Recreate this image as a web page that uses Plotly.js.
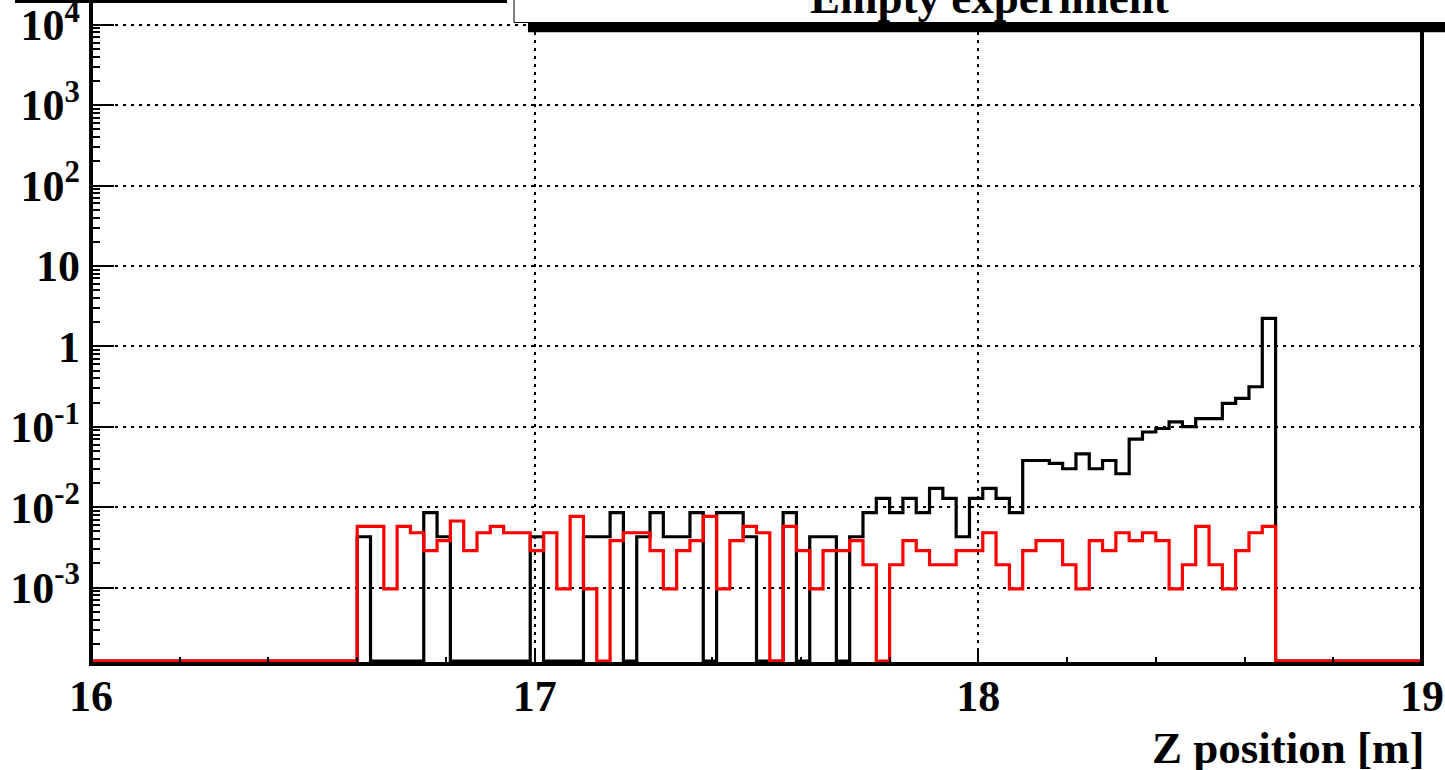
<!DOCTYPE html>
<html>
<head>
<meta charset="utf-8">
<script src="https://cdn.plot.ly/plotly-3.0.1.min.js"></script>
<style>html,body{margin:0;padding:0;background:#fff;}#chart{width:1445px;height:770px;}</style>
</head>
<body>
<div id="chart"></div>
<script>
// ---- histogram binning (16 .. 19 m, 100 bins) ----
const xMin = 16;
const xMax = 19;
const binWidth = 0.03;

// black histogram (one value per bin, 0 = empty bin)
const blackValues = [
  0,0,0,0,0,0,0,0,0,0,
  0,0,0,0,0,0,0,0,0,0,
  0.00428,0,0,0,0,0.00856,0.00428,0,0,0,
  0,0,0,0.00428,0,0,0,0.00428,0.00428,0.00856,
  0,0.00428,0.00856,0.00428,0.00428,0.00856,0,0.00856,0.00856,0.00428,
  0,0,0.00856,0,0.00428,0.00428,0,0.00428,0.00856,0.01284,
  0.00856,0.01284,0.00856,0.01712,0.01284,0.00428,0.01284,0.01712,0.01284,0.00856,
  0.038,0.038,0.035,0.030,0.046,0.030,0.038,0.026,0.070,0.086,
  0.095,0.115,0.100,0.126,0.126,0.195,0.225,0.314,2.23,0,
  0,0,0,0,0,0,0,0,0,0
];

// red histogram
const redValues = [
  0,0,0,0,0,0,0,0,0,0,
  0,0,0,0,0,0,0,0,0,0,
  0.00576,0.00576,0.00096,0.00576,0.0048,0.00288,0.00384,0.00672,0.00288,0.0048,
  0.00576,0.0048,0.0048,0.00288,0.0048,0.00096,0.00768,0.00096,0,0.00384,
  0.0048,0.0048,0.00288,0.00096,0.00288,0.00384,0.00768,0.00096,0.00384,0.00576,
  0.0048,0,0.00576,0.00288,0.00096,0.00288,0.00288,0.00384,0.00192,0,
  0.00192,0.00384,0.00288,0.00192,0.00192,0.00288,0.00288,0.0048,0.00192,0.00096,
  0.00288,0.00384,0.00384,0.00192,0.00096,0.00384,0.00288,0.0048,0.00384,0.0048,
  0.00384,0.00096,0.00192,0.00576,0.00192,0.00096,0.00288,0.0048,0.00576,0,
  0,0,0,0,0,0,0,0,0,0
];

// axes
const xTickVals = [16, 17, 18, 19];
const xTickText = ['16', '17', '18', '19'];
const yTickVals = [1e-3, 1e-2, 1e-1, 1, 10, 100, 1e3, 1e4];
const yTickText = ['10<sup>-3</sup>', '10<sup>-2</sup>', '10<sup>-1</sup>', '1', '10',
                   '10<sup>2</sup>', '10<sup>3</sup>', '10<sup>4</sup>'];
const yLogRange = [-3.951, 4.307];
const titleText = 'Empty experiment';
const xTitleText = 'Z position [m]';

// ---- build step traces ----
const floorValue = Math.pow(10, yLogRange[0] + 0.037); // empty bins sit on the frame floor
function stepTrace(values, color) {
  const xs = [], ys = [];
  values.forEach((v, i) => {
    xs.push(xMin + i * binWidth);
    ys.push(v > 0 ? v : floorValue);
  });
  xs.push(xMax);
  ys.push(values[values.length - 1] > 0 ? values[values.length - 1] : floorValue);
  return {
    type: 'scatter', mode: 'lines', x: xs, y: ys,
    line: {shape: 'hv', color: color, width: 3.2},
    hoverinfo: 'skip', showlegend: false
  };
}

const W = 1445, H = 770;
const M = {l: 91, r: 23, t: 0, b: 106};
const pw = W - M.l - M.r, ph = H - M.t - M.b;
const px = x => (x - M.l) / pw;
const py = y => (H - M.b - y) / ph;

const minorY = [];
for (let d = -4; d <= 4; d++) for (let k = 2; k <= 9; k++) minorY.push(k * Math.pow(10, d));

const serif = 'Liberation Serif, Times New Roman, serif';
const tickFont = {family: serif, size: 44, color: '#000', weight: 'bold'};

const layout = {
  width: W, height: H, margin: M,
  paper_bgcolor: '#fff', plot_bgcolor: '#fff', showlegend: false,
  xaxis: {
    range: [xMin, xMax], tickmode: 'array', tickvals: xTickVals, ticktext: xTickText,
    ticks: 'inside', ticklen: 15, tickwidth: 2, tickcolor: '#000',
    showgrid: true, gridcolor: '#000', gridwidth: 2, griddash: '3px,5px',
    minor: {tick0: 16, dtick: 0.2, ticks: 'inside', ticklen: 7, tickwidth: 2, tickcolor: '#000', showgrid: false},
    showline: false, zeroline: false, tickfont: tickFont, ticklabelstandoff: 2,
    ticklabeloverflow: 'allow', fixedrange: true
  },
  yaxis: {
    type: 'log', range: yLogRange, tickmode: 'array', tickvals: yTickVals, ticktext: yTickText,
    ticks: 'inside', ticklen: 23, tickwidth: 2, tickcolor: '#000',
    showgrid: true, gridcolor: '#000', gridwidth: 2, griddash: '3px,5px',
    minor: {tickmode: 'array', tickvals: minorY, ticks: 'inside', ticklen: 9, tickwidth: 2, tickcolor: '#000', showgrid: false},
    showline: false, zeroline: false, tickfont: tickFont, ticklabelstandoff: 10,
    ticklabeloverflow: 'allow', fixedrange: true
  },
  shapes: [
    // frame: left, bottom, right
    {type: 'line', xref: 'paper', yref: 'paper', x0: 0, x1: 0, y0: py(H - M.b + 2), y1: py(-5), line: {color: '#000', width: 4}},
    {type: 'line', xref: 'paper', yref: 'paper', x0: px(M.l - 2), x1: px(W - M.r + 2), y0: 0, y1: 0, line: {color: '#000', width: 4}},
    {type: 'line', xref: 'paper', yref: 'paper', x0: 1, x1: 1, y0: py(H - M.b + 2), y1: py(-5), line: {color: '#000', width: 4}},
    // shadow of the box at top-left
    {type: 'rect', xref: 'paper', yref: 'paper', x0: px(15), x1: px(507), y0: py(3), y1: py(-5), fillcolor: '#000', line: {width: 0}},
    // title box shadow
    {type: 'rect', xref: 'paper', yref: 'paper', x0: px(528), x1: px(1460), y0: py(32.3), y1: py(22), fillcolor: '#000', line: {width: 0}},
    // title box
    {type: 'rect', xref: 'paper', yref: 'paper', x0: px(514), x1: px(1460), y0: py(22.5), y1: py(-60), fillcolor: '#fff', line: {color: '#000', width: 1}}
  ],
  annotations: [
    {text: '<b>' + titleText + '</b>', xref: 'paper', yref: 'paper', x: px(989), y: py(-2), xanchor: 'center', yanchor: 'middle',
     showarrow: false, font: {family: serif, size: 45, color: '#000'}},
    {text: '<b>' + xTitleText + '</b>', xref: 'paper', yref: 'paper', x: px(1427), y: py(748), xanchor: 'right', yanchor: 'middle',
     showarrow: false, font: {family: serif, size: 45, color: '#000'}}
  ]
};

Plotly.newPlot('chart', [stepTrace(blackValues, '#000'), stepTrace(redValues, '#ff0000')], layout,
  {staticPlot: true, displayModeBar: false});
</script>
</body>
</html>
